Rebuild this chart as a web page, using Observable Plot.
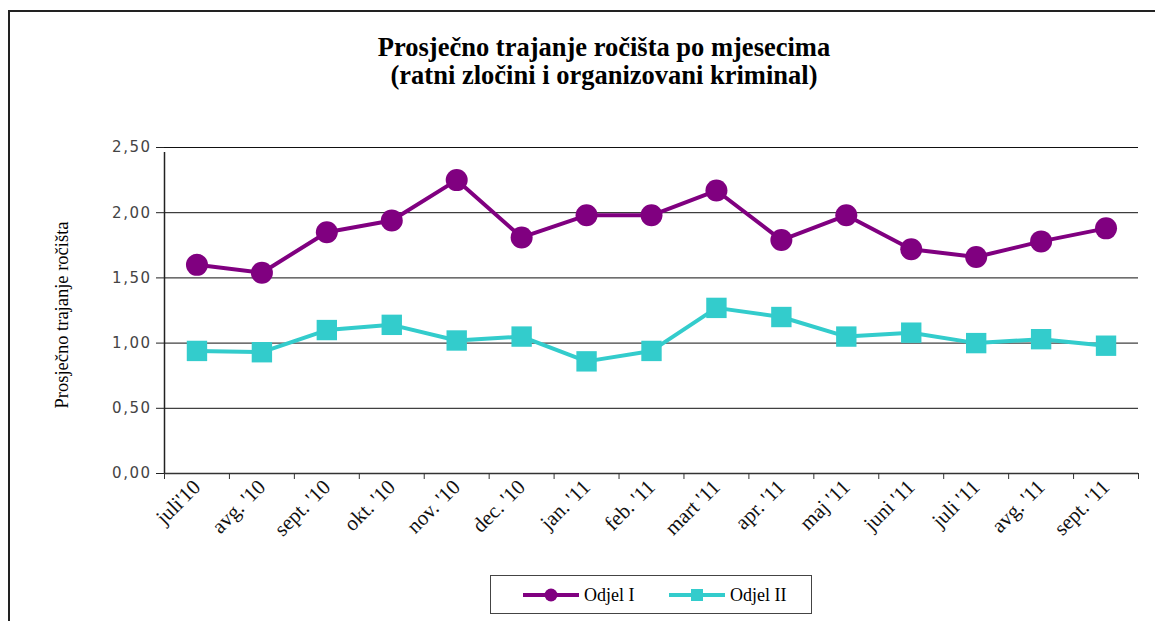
<!DOCTYPE html>
<html>
<head>
<meta charset="utf-8">
<script src="https://cdn.jsdelivr.net/npm/d3@7"></script>
<script src="https://cdn.jsdelivr.net/npm/@observablehq/plot@0.6"></script>
<style>
  html, body { margin: 0; padding: 0; background: #fff; width: 1155px; height: 621px; overflow: hidden; font-family: 'Liberation Serif', serif; }
  #frame { position: absolute; left: 8px; top: 10px; width: 1200px; height: 700px; border-left: 2px solid #222; border-top: 2px solid #222; }
  #title { position: absolute; left: 0; width: 1208px; top: 33px; text-align: center; font-family: 'Liberation Serif', serif; font-weight: bold; font-size: 26.5px; line-height: 28px; color: #000; }
  #ylabel { position: absolute; left: 62px; top: 315px; transform: translate(-50%, -50%) rotate(-90deg); white-space: nowrap; font-family: 'Liberation Serif', serif; font-size: 18.5px; color: #000; }
  #chart { position: absolute; left: 0; top: 100px; }
  #chart g[aria-label="y-axis tick label"] { letter-spacing: 1.5px; }
  #legend { position: absolute; left: 490px; top: 575px; width: 320px; height: 37px; border: 1px solid #444; background: #fff; }
  #legend text { font-family: 'Liberation Serif', serif; font-size: 18px; fill: #000; }
</style>
</head>
<body>
<div id="frame"></div>
<div id="title">Prosječno trajanje ročišta po mjesecima<br>(ratni zločini i organizovani kriminal)</div>
<div id="ylabel">Prosječno trajanje ročišta</div>
<div id="chart"></div>
<div id="legend"></div>
<script>
const months = ["juli'10", "avg. '10", "sept. '10", "okt. '10", "nov. '10", "dec. '10", "jan. '11", "feb. '11", "mart '11", "apr. '11", "maj '11", "juni '11", "juli '11", "avg. '11", "sept. '11"];
const odjelI  = [1.60, 1.54, 1.85, 1.94, 2.25, 1.81, 1.98, 1.98, 2.17, 1.79, 1.98, 1.72, 1.66, 1.78, 1.88];
const odjelII = [0.94, 0.93, 1.10, 1.14, 1.02, 1.05, 0.86, 0.94, 1.27, 1.20, 1.05, 1.08, 1.00, 1.03, 0.98];
const yTicks = [0, 0.5, 1, 1.5, 2, 2.5];
const seriesNames = ["Odjel I", "Odjel II"];
const colors = ["#800080", "#33CCCC"];

const rowsI = months.map((m, i) => ({i: i + 0.5, m, v: odjelI[i]}));
const rowsII = months.map((m, i) => ({i: i + 0.5, m, v: odjelII[i]}));
const fmt = d => d.toFixed(2).replace(".", ",");

const plot = Plot.plot({
  width: 1155,
  height: 470,
  marginLeft: 164,
  marginRight: 17,
  marginTop: 47,
  marginBottom: 97,
  style: {fontFamily: "'Liberation Serif', serif"},
  x: {type: "linear", domain: [0, months.length]},
  y: {domain: [0, 2.5]},
  marks: [
    Plot.ruleY(yTicks.filter(d => d > 0), {stroke: "#111", strokeWidth: 1}),
    Plot.ruleY([0], {stroke: "#333", strokeWidth: 1.5}),
    Plot.ruleX([0], {y1: 0, y2: 2.5, stroke: "#222", strokeWidth: 1.5, insetBottom: -5}),
    Plot.axisY({ticks: yTicks, tickFormat: fmt, tickSize: 8, tickPadding: 5, fontSize: 15, fontFamily: "DejaVu Sans", fill: "#444", stroke: "#222", label: null}),
    Plot.axisX({ticks: d3.range(months.length + 1), tickFormat: () => "", tickSize: 6, stroke: "#333", label: null}),
    Plot.axisX({ticks: months.map((m, i) => i + 0.5), tickFormat: d => months[Math.floor(d)], tickSize: 0, tickPadding: 10, tickRotate: -45, fontSize: 21, fontFamily: "'Liberation Serif', serif", fill: "#111", label: null}),
    Plot.line(rowsI, {x: "i", y: "v", stroke: colors[0], strokeWidth: 4}),
    Plot.dot(rowsI, {x: "i", y: "v", r: 11, fill: colors[0], symbol: "circle"}),
    Plot.line(rowsII, {x: "i", y: "v", stroke: colors[1], strokeWidth: 4}),
    Plot.dot(rowsII, {x: "i", y: "v", r: 11.5, fill: colors[1], symbol: "square"})
  ]
});
document.getElementById("chart").appendChild(plot);

// legend
const lg = d3.select("#legend").append("svg").attr("width", 320).attr("height", 37);
const items = [{x: 32, sym: "circle"}, {x: 178, sym: "square"}];
items.forEach((it, k) => {
  const g = lg.append("g").attr("transform", `translate(${it.x},19)`);
  g.append("line").attr("x1", 0).attr("x2", 56).attr("stroke", colors[k]).attr("stroke-width", 4);
  if (it.sym === "circle") g.append("circle").attr("cx", 28).attr("r", 6.5).attr("fill", colors[k]);
  else g.append("rect").attr("x", 22).attr("y", -6).attr("width", 12).attr("height", 12).attr("fill", colors[k]);
  g.append("text").attr("x", 61).attr("y", 6).text(seriesNames[k]);
});
</script>
</body>
</html>
